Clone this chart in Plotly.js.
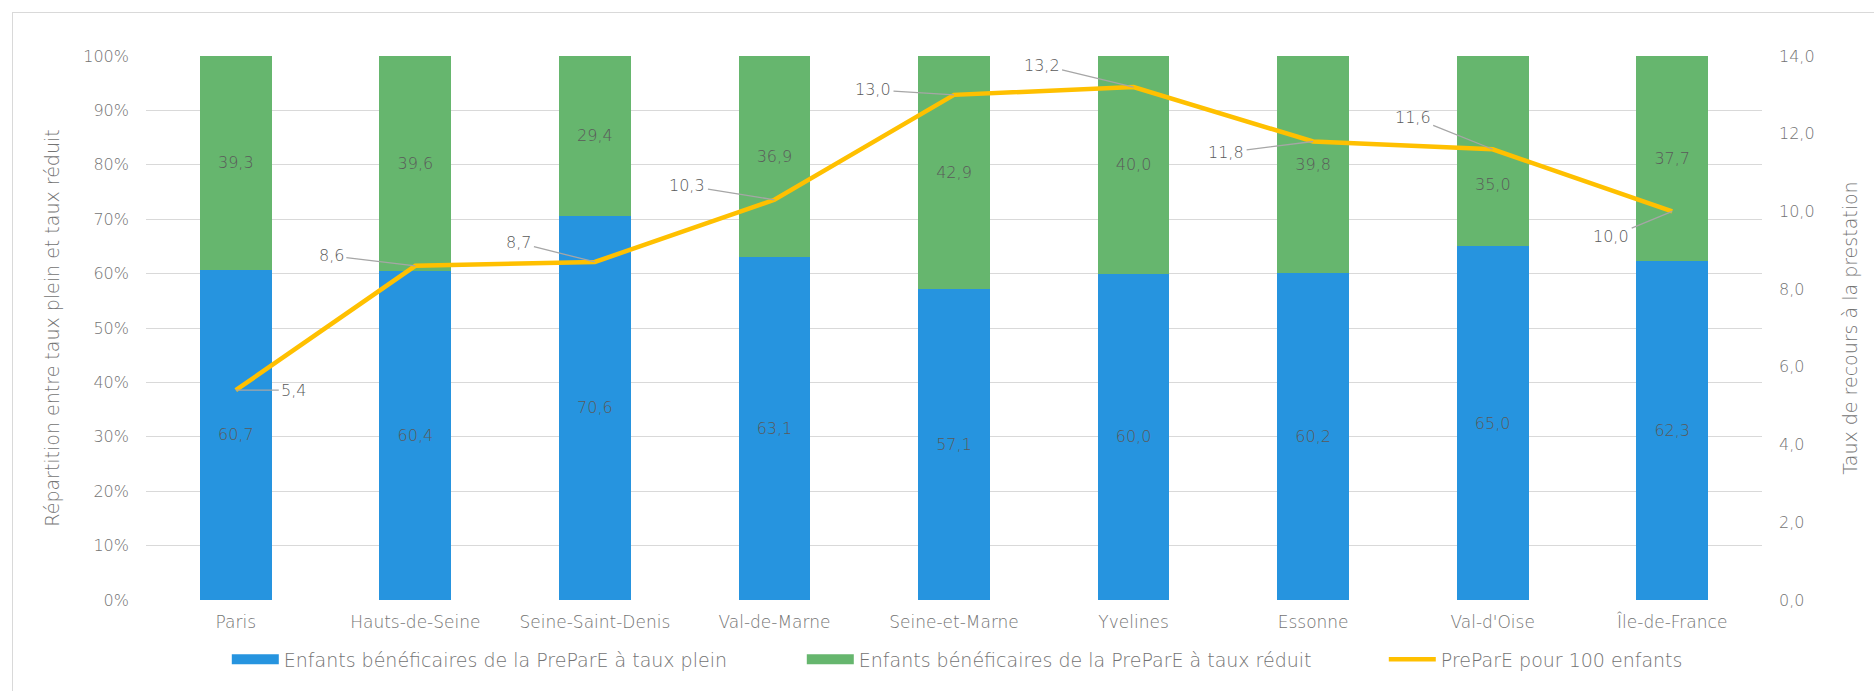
<!DOCTYPE html>
<html lang="fr">
<head>
<meta charset="utf-8">
<script src="https://cdn.plot.ly/plotly-3.0.1.min.js"></script>
<style>
  html, body { margin: 0; padding: 0; background: #fff; overflow: hidden; }
  #frame { position: absolute; left: 12px; top: 12px; width: 1900px; height: 720px;
           border: 1.5px solid #d9d9d9; box-sizing: border-box; }
  #chart { position: absolute; left: 0; top: 0; width: 1874px; height: 691px; }
</style>
</head>
<body>
<div id="frame"></div>
<div id="chart"></div>
<script>
// Départements d'Île-de-France
const departements = ["Paris", "Hauts-de-Seine", "Seine-Saint-Denis", "Val-de-Marne",
  "Seine-et-Marne", "Yvelines", "Essonne", "Val-d'Oise", "Île-de-France"];

// Répartition (%) des enfants bénéficiaires
const tauxPlein = [60.7, 60.4, 70.6, 63.1, 57.1, 60.0, 60.2, 65.0, 62.3];
const tauxReduit = [39.3, 39.6, 29.4, 36.9, 42.9, 40.0, 39.8, 35.0, 37.7];

// PreParE pour 100 enfants
const prepare100 = [5.4, 8.6, 8.7, 10.3, 13.0, 13.2, 11.8, 11.6, 10.0];

// Libellés des axes
const pctTicks = [0, 10, 20, 30, 40, 50, 60, 70, 80, 90, 100];
const tauxTicks = [0, 2, 4, 6, 8, 10, 12, 14];

// Décalage (px) des étiquettes de la courbe par rapport à leur point
const labelOffsets = [[58, 0], [-84, -10], [-76, -19], [-87, -14], [-81, -5],
  [-92, -22], [-87, 11], [-80, -32], [-61, 25]];

// Étiquette de barre "taux réduit" déplacée sous la courbe (index, décalage px)
const movedReduitLabel = { index: 7, yshift: -33 };

const FONT = '"Century Gothic", "DejaVu Sans", sans-serif';
const AXIS_GREY = '#737373';
const LABEL_GREY = '#5a5a5a';
const BLUE = '#2694DF';
const GREEN = '#66B66E';
const GOLD = '#FFC000';
const WEIGHT = 300;

const fmt = v => v.toFixed(1).replace('.', ',');
const font = (size, color) => ({ family: FONT, size: size, color: color, weight: WEIGHT });

const barCommon = {
  type: 'bar', x: departements, yaxis: 'y', showlegend: false,
  textposition: 'inside', insidetextanchor: 'middle', textangle: 0,
  constraintext: 'none', hoverinfo: 'x+y',
  textfont: font(16, LABEL_GREY)
};

const traces = [
  Object.assign({}, barCommon, {
    name: 'Enfants bénéficaires de la PreParE à taux plein', legendgroup: 'plein',
    y: tauxPlein, text: tauxPlein.map(fmt), marker: { color: BLUE }
  }),
  Object.assign({}, barCommon, {
    name: 'Enfants bénéficaires de la PreParE à taux réduit', legendgroup: 'reduit',
    y: tauxReduit,
    text: tauxReduit.map((v, i) => (i === movedReduitLabel.index ? '' : fmt(v))),
    marker: { color: GREEN }
  }),
  // Entrées de légende en bandeau pour les séries en barres
  { type: 'scatter', mode: 'lines', x: [null], y: [null], yaxis: 'y',
    name: 'Enfants bénéficaires de la PreParE à taux plein', legendgroup: 'plein',
    legendwidth: 513, line: { color: BLUE, width: 11 }, hoverinfo: 'skip' },
  { type: 'scatter', mode: 'lines', x: [null], y: [null], yaxis: 'y',
    name: 'Enfants bénéficaires de la PreParE à taux réduit', legendgroup: 'reduit',
    legendwidth: 520, line: { color: GREEN, width: 11 }, hoverinfo: 'skip' },
  { type: 'scatter', mode: 'lines', x: departements, y: prepare100, yaxis: 'y2',
    name: 'PreParE pour 100 enfants',
    line: { color: GOLD, width: 4.5 }, hoverinfo: 'x+y' }
];

const annotations = prepare100.map((v, i) => ({
  xref: 'x', yref: 'y2', x: departements[i], y: v,
  text: fmt(v), showarrow: true, arrowhead: 0, arrowwidth: 1.3, arrowcolor: '#a6a6a6',
  ax: labelOffsets[i][0], ay: labelOffsets[i][1], standoff: 0, borderpad: 2,
  font: font(16, LABEL_GREY)
}));

// Étiquette déplacée : centrée sur le segment "taux réduit" puis décalée
const k = movedReduitLabel.index;
annotations.push({
  xref: 'x', yref: 'y', x: departements[k], y: tauxPlein[k] + tauxReduit[k] / 2,
  yshift: movedReduitLabel.yshift, text: fmt(tauxReduit[k]), showarrow: false,
  font: font(16, LABEL_GREY)
});

const layout = {
  width: 1874, height: 691,
  margin: { l: 146, r: 112, t: 56, b: 91, pad: 0, autoexpand: false },
  paper_bgcolor: 'rgba(0,0,0,0)', plot_bgcolor: 'rgba(0,0,0,0)',
  separators: ', ',
  barmode: 'stack', bargap: 0.6,
  font: font(16, AXIS_GREY),
  xaxis: {
    type: 'category', showgrid: false, zeroline: false, showline: false, automargin: false,
    ticks: '', ticklabelstandoff: 10,
    tickfont: font(17, AXIS_GREY)
  },
  yaxis: {
    range: [0, 100], tickvals: pctTicks, ticktext: pctTicks.map(t => t + '%'),
    showgrid: true, gridcolor: '#d9d9d9', gridwidth: 1.3, zeroline: false, showline: false,
    automargin: false, ticks: '', ticklabelstandoff: 16,
    tickfont: font(16, AXIS_GREY),
    title: { text: 'Répartition entre taux plein et taux réduit', standoff: 18,
             font: font(19, AXIS_GREY) }
  },
  yaxis2: {
    overlaying: 'y', side: 'right', range: [0, 14], tickvals: tauxTicks,
    ticktext: tauxTicks.map(fmt), automargin: false,
    showgrid: false, zeroline: false, showline: false, ticks: '', ticklabelstandoff: 16,
    tickfont: font(16, AXIS_GREY),
    title: { text: 'Taux de recours à la prestation', standoff: 30,
             font: font(19, AXIS_GREY) }
  },
  showlegend: true,
  legend: {
    orientation: 'h', xref: 'paper', yref: 'paper', x: 0.05, xanchor: 'left',
    y: -0.109, yanchor: 'middle', itemwidth: 47,
    traceorder: 'normal', font: font(19, AXIS_GREY),
    bgcolor: 'rgba(0,0,0,0)'
  },
  annotations: annotations
};

Plotly.newPlot('chart', traces, layout, { displayModeBar: false, responsive: false });
</script>
</body>
</html>
